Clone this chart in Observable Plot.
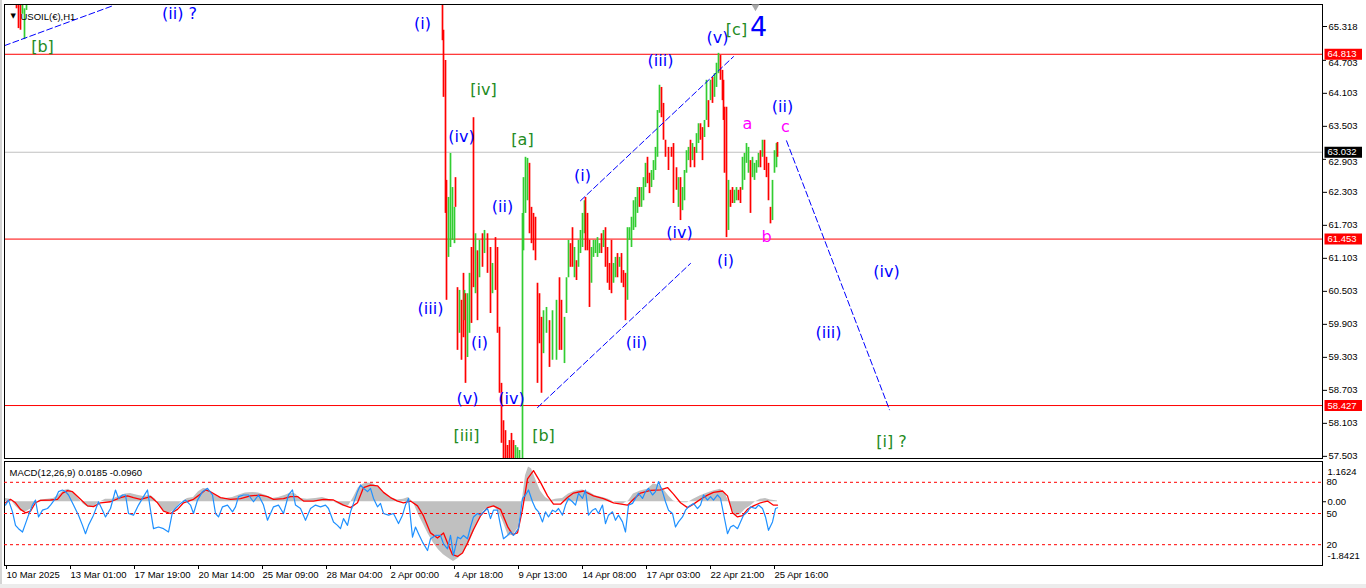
<!DOCTYPE html>
<html>
<head>
<meta charset="utf-8">
<script src="https://cdn.jsdelivr.net/npm/d3@7"></script>
<script src="https://cdn.jsdelivr.net/npm/@observablehq/plot@0.6"></script>
<style>
  body { margin: 0; background: #fff; }
  #wrap { position: relative; width: 1366px; height: 588px; overflow: hidden; background: #fff; }
  #wrap svg { position: absolute; left: 0; max-width: none; }
  .edge { position: absolute; background: #d4d4d4; }
</style>
</head>
<body>
<div id="wrap"></div>
<script>
// ---------- DATA ----------
const symbolTitle = "USOIL(€),H1";
const macdTitle = "MACD(12,26,9) 0.0185 -0.0960";

// time axis: bar number -> label
const tickBars = [1, 65, 129, 193, 257, 321, 385, 449, 513, 577, 641, 705, 769];
const tickLabels = ["10 Mar 2025", "13 Mar 01:00", "17 Mar 19:00", "20 Mar 14:00", "25 Mar 09:00",
  "28 Mar 04:00", "2 Apr 00:00", "4 Apr 18:00", "9 Apr 13:00", "14 Apr 08:00", "17 Apr 03:00",
  "22 Apr 21:00", "25 Apr 16:00"];

// price axis labels
const priceTicks = [65.318, 64.703, 64.103, 63.503, 62.903, 62.303, 61.703, 61.103, 60.503,
  59.903, 59.303, 58.703, 58.103, 57.503];
const keyLevels = [64.813, 61.453, 58.427];
const lastPrice = 63.032;

// hourly bars (sampled): [bar, high, low, direction]
const priceBars = [
 [12,66.0,65.64,"d"],[14,66.0,65.28,"d"],[16,66.0,65.25,"d"],[18,66.0,65.54,"u"],[20,65.64,65.08,"u"],[22,66.0,65.61,"u"],
 [438,66.0,65.06,"d"],[439,65.25,64.03,"d"],[441,64.70,61.92,"d"],[442,62.52,60.34,"d"],[444,62.21,61.12,"u"],[446,63.01,61.30,"u"],
 [448,62.39,61.43,"u"],[450,62.03,61.37,"u"],[451,62.57,62.03,"d"],[453,60.57,59.43,"d"],[455,60.52,59.74,"u"],[457,60.34,59.25,"d"],
 [459,60.83,59.66,"d"],[460,60.52,59.97,"u"],[461,60.46,58.83,"d"],[463,60.46,59.30,"u"],[465,60.83,59.74,"u"],[467,61.30,59.92,"d"],
 [469,63.66,60.57,"d"],[471,61.55,60.46,"u"],[473,61.24,59.97,"d"],[475,61.43,60.75,"u"],[478,61.55,60.94,"d"],[480,61.61,61.19,"u"],
 [483,61.55,60.83,"d"],[486,61.30,60.10,"d"],[488,61.01,60.46,"u"],[491,61.48,60.52,"d"],[493,61.30,59.74,"d"],[495,59.85,58.65,"d"],
 [497,58.83,57.74,"d"],[499,58.15,57.34,"d"],[501,57.97,57.25,"d"],[503,57.70,57.25,"d"],[505,57.79,57.25,"d"],[507,57.92,57.25,"d"],
 [509,57.79,57.25,"d"],[511,57.70,57.25,"u"],[513,57.66,57.25,"u"],[515,57.61,57.25,"u"],[518,61.92,57.25,"u"],[519,62.57,61.24,"u"],
 [521,62.94,61.92,"u"],[523,62.92,62.15,"u"],[525,62.83,61.55,"d"],[527,62.03,61.37,"d"],[529,61.92,61.24,"d"],[531,61.85,61.06,"d"],
 [533,60.65,58.83,"d"],[535,60.46,59.55,"d"],[537,60.03,58.65,"d"],[539,60.15,59.37,"u"],[542,60.21,59.74,"u"],[545,59.97,59.12,"d"],
 [548,60.15,59.25,"u"],[552,60.34,59.25,"u"],[555,60.75,59.43,"d"],[557,60.34,59.43,"d"],[560,60.03,59.19,"u"],[562,60.75,60.10,"u"],
 [564,61.43,60.75,"u"],[566,61.37,60.94,"d"],[568,61.66,60.94,"d"],[570,61.30,60.75,"u"],[572,61.06,60.70,"d"],[574,61.43,60.94,"u"],
 [576,61.61,61.19,"u"],[578,61.92,61.30,"u"],[580,62.15,61.55,"u"],[581,62.21,61.24,"d"],[583,61.92,61.24,"d"],[585,61.43,60.21,"d"],
 [587,61.30,60.65,"u"],[589,61.43,61.12,"u"],[591,61.43,61.19,"u"],[593,61.48,61.12,"u"],[595,61.37,61.19,"u"],[597,61.55,61.19,"d"],
 [599,61.61,61.30,"u"],[601,61.66,60.94,"d"],[603,61.30,60.65,"d"],[605,61.01,60.52,"d"],[607,61.43,60.46,"d"],[609,61.01,60.65,"u"],
 [611,61.12,60.75,"u"],[613,61.19,60.75,"d"],[615,61.12,60.94,"u"],[617,61.19,60.65,"d"],[619,60.88,60.57,"d"],[621,60.83,59.97,"d"],
 [623,61.66,60.34,"u"],[625,61.66,61.43,"u"],[627,61.85,61.30,"u"],[629,62.15,61.61,"u"],[631,62.21,61.66,"u"],[633,62.39,61.92,"u"],
 [635,62.39,62.03,"d"],[637,62.39,62.03,"u"],[639,62.57,62.15,"u"],[641,62.83,62.39,"u"],[643,62.94,62.46,"d"],[645,62.65,62.28,"d"],
 [647,62.70,62.39,"u"],[649,62.88,62.52,"u"],[651,63.12,62.70,"u"],[653,63.79,62.94,"u"],[655,64.25,63.74,"u"],[657,64.21,63.66,"d"],
 [659,63.92,63.25,"d"],[661,63.25,62.94,"d"],[664,63.12,62.70,"d"],[667,63.12,62.94,"d"],[669,63.19,62.10,"d"],[672,62.75,62.34,"d"],
 [674,62.57,62.03,"u"],[676,62.57,61.79,"d"],[678,62.39,61.97,"u"],[680,62.70,62.15,"u"],[682,63.06,62.65,"u"],[684,63.12,62.88,"u"],
 [686,63.25,62.75,"d"],[688,63.19,62.88,"u"],[690,63.12,62.75,"d"],[692,63.37,63.01,"u"],[694,63.55,63.19,"u"],[696,63.55,63.25,"d"],
 [698,63.48,62.88,"d"],[700,63.61,63.30,"u"],[702,64.34,63.61,"u"],[704,63.97,63.48,"d"],[706,64.34,63.97,"u"],[708,64.39,63.92,"d"],
 [710,64.46,64.03,"u"],[712,64.65,64.21,"u"],[714,64.83,64.46,"u"],[716,64.79,64.34,"d"],[718,64.52,63.97,"d"],[719,64.34,63.61,"d"],
 [720,63.85,62.65,"d"],[722,63.85,61.48,"d"],[724,62.52,61.61,"u"],[726,62.34,62.03,"d"],[728,62.39,62.10,"d"],[730,62.34,62.10,"u"],
 [732,62.39,62.15,"u"],[734,62.34,62.15,"d"],[736,62.39,62.10,"d"],[738,62.94,62.34,"u"],[740,63.01,62.52,"u"],[742,63.19,62.83,"u"],
 [744,63.12,62.65,"u"],[746,62.88,61.92,"d"],[748,62.94,62.57,"u"],[750,62.83,62.52,"u"],[752,62.88,62.65,"u"],[754,63.01,62.75,"u"],
 [756,63.06,62.75,"d"],[758,63.25,62.94,"u"],[760,63.25,62.70,"d"],[762,62.94,62.57,"d"],[764,62.83,62.15,"d"],[766,62.03,61.73,"d"],
 [768,62.52,61.79,"u"],[770,63.06,62.65,"u"],[772,63.19,62.75,"u"],[773,63.21,62.94,"d"]
];

// Elliott wave labels: [text, bar, price, kind]
const waveLabels = [
 ["(ii) ?",175,65.55,"wave"],["[b]",38,64.94,"major"],["(i)",418,65.37,"wave"],["[iv]",479,64.17,"major"],
 ["(iv)",457,63.32,"wave"],["[a]",518,63.25,"major"],["(ii)",498,62.03,"wave"],["(iii)",426,60.19,"wave"],
 ["(i)",475,59.57,"wave"],["(v)",463,58.55,"wave"],["(iv)",507,58.55,"wave"],["[iii]",462,57.88,"major"],
 ["[b]",539,57.88,"major"],["(i)",578,62.61,"wave"],["(ii)",632,59.57,"wave"],["(iii)",656,64.70,"wave"],
 ["(iv)",675,61.57,"wave"],["(v)",713,65.12,"wave"],["[c]",732,65.25,"major"],["(i)",721,61.06,"wave"],
 ["(ii)",778,63.86,"wave"],["(iv)",882,60.86,"wave"],["(iii)",824,59.74,"wave"],["[i] ?",887,57.77,"major"],
 ["a",743,63.54,"minor"],["b",762,61.50,"minor"],["c",781,63.50,"minor"],["4",754,65.30,"degree"]
];

// dashed trend lines: [id, bar, price]
const trendLines = [
 [1,0,64.97],[1,109,65.70],
 [2,576,62.15],[2,729,64.77],
 [3,533,58.39],[3,686,61.01],
 [4,782,63.24],[4,885,58.35]
];

// MACD histogram [bar, value]
const macdHist = [
 [1,0.09],[6,0.07],[11,-0.12],[16,-0.27],[21,-0.30],[26,-0.22],[31,-0.03],[36,0.05],[43,0.07],[49,0.09],[54,0.19],[59,0.32],
 [64,0.36],[69,0.27],[74,0.09],[79,-0.07],[84,-0.17],[89,-0.17],[94,-0.03],[101,0.07],[108,0.07],[114,0.15],[121,0.22],[126,0.24],
 [133,0.19],[139,0.15],[146,0.19],[151,0.07],[156,-0.17],[161,-0.30],[166,-0.32],[171,-0.22],[176,-0.03],[183,0.09],[189,0.12],
 [194,0.29],[199,0.38],[204,0.36],[209,0.22],[214,0.12],[221,0.09],[228,0.12],[234,0.19],[241,0.25],[248,0.27],[254,0.25],[261,0.19],
 [268,0.09],[274,0.12],[281,0.19],[286,0.25],[291,0.22],[296,0.09],[303,0.07],[311,0.09],[318,0.12],[324,0.07],[331,-0.03],[338,-0.12],
 [344,-0.12],[349,0.12],[354,0.41],[359,0.51],[364,0.54],[369,0.51],[374,0.41],[379,0.27],[386,0.12],[393,0.05],[399,0.07],[404,0.12],
 [409,-0.03],[414,-0.37],[419,-0.66],[424,-0.95],[429,-1.19],[434,-1.39],[439,-1.53],[444,-1.63],[449,-1.73],[454,-1.63],[459,-1.48],
 [464,-1.24],[469,-0.90],[474,-0.56],[479,-0.27],[484,-0.17],[489,-0.14],[494,-0.27],[499,-0.61],[504,-1.00],[509,-0.95],[514,-0.75],
 [518,0.07],[521,0.75],[524,1.00],[527,0.95],[531,0.66],[536,0.31],[541,0.12],[546,0.03],[551,0.07],[558,0.09],[564,0.22],[571,0.31],
 [578,0.34],[584,0.29],[591,0.17],[598,0.12],[604,0.07],[611,-0.03],[618,-0.07],[624,0.02],[629,0.22],[636,0.31],[643,0.36],[649,0.51],
 [654,0.48],[659,0.36],[664,0.17],[669,0.02],[676,-0.03],[683,-0.03],[689,0.07],[696,0.17],[703,0.25],[709,0.31],[716,0.36],[721,0.22],
 [726,-0.12],[731,-0.41],[736,-0.37],[741,-0.22],[746,-0.12],[751,0.0],[756,0.07],[761,0.09],[766,0.05],[773,0.02]
];

// MACD signal [bar, value]
const macdSignal = [
 [1,-0.03],[6,0.07],[11,-0.03],[16,-0.22],[21,-0.32],[26,-0.27],[31,-0.03],[36,0.04],[46,0.05],[53,0.07],[58,0.25],[63,0.32],
 [68,0.29],[76,0.07],[83,-0.12],[89,-0.14],[96,-0.03],[106,0.0],[116,0.12],[123,0.17],[129,0.12],[136,0.07],[146,0.15],[153,-0.03],
 [159,-0.27],[166,-0.34],[173,-0.22],[179,-0.03],[189,0.07],[196,0.22],[201,0.34],[206,0.29],[216,0.12],[226,0.07],[236,0.09],
 [246,0.17],[256,0.19],[263,0.15],[269,0.07],[279,0.09],[286,0.15],[293,0.15],[299,0.02],[309,0.02],[319,0.07],[329,0.05],[339,-0.10],
 [346,-0.17],[353,-0.03],[359,0.41],[366,0.48],[373,0.46],[379,0.27],[386,0.12],[393,0.02],[399,-0.03],[406,0.02],[413,-0.12],
 [419,-0.41],[426,-0.90],[433,-1.05],[439,-0.90],[443,-1.19],[448,-1.53],[453,-1.58],[458,-1.48],[463,-1.19],[469,-0.80],[476,-0.41],
 [483,-0.17],[489,-0.12],[496,-0.22],[503,-0.71],[508,-0.95],[513,-0.90],[518,-0.22],[523,0.66],[529,0.90],[536,0.56],[543,0.17],
 [549,-0.07],[556,-0.07],[563,0.12],[569,0.25],[579,0.31],[589,0.17],[599,0.09],[609,-0.03],[623,-0.10],[629,0.07],[636,0.25],
 [646,0.33],[656,0.34],[663,0.41],[669,0.22],[676,-0.03],[683,-0.17],[689,-0.07],[696,0.07],[703,0.19],[709,0.27],[718,0.31],
 [723,0.17],[728,-0.32],[733,-0.44],[738,-0.40],[743,-0.22],[749,-0.12],[756,-0.03],[763,0.02],[769,-0.10],[773,-0.10]
];

// oscillator (0-100) [bar, value]
const oscLine = [
 [1,58.1],[4,62.9],[8,51.6],[11,38.6],[14,35.4],[18,32.2],[21,40.3],[24,48.4],[28,58.1],[31,62.9],[34,46.7],[38,53.2],[43,54.8],
 [46,58.1],[51,64.5],[54,71.0],[58,72.6],[61,71.0],[64,67.8],[69,58.1],[74,48.4],[78,38.6],[81,30.6],[84,38.6],[89,48.4],[94,61.3],
 [98,53.2],[101,46.7],[106,54.8],[111,72.6],[114,64.5],[118,67.8],[121,67.8],[124,50.0],[129,48.4],[134,58.1],[139,66.2],[143,72.6],
 [146,53.2],[149,35.4],[154,37.0],[159,35.4],[164,32.2],[168,51.6],[171,54.8],[176,59.7],[181,62.9],[186,58.1],[189,50.0],[193,62.9],
 [198,71.0],[203,74.2],[208,67.8],[211,50.0],[214,46.7],[218,56.4],[223,58.1],[228,51.6],[231,56.4],[234,66.2],[239,67.8],[244,67.8],
 [249,61.3],[254,67.8],[259,58.1],[263,43.5],[266,50.0],[269,56.4],[274,58.1],[279,50.0],[284,67.8],[288,72.6],[291,58.1],[296,54.8],
 [301,43.5],[306,54.8],[311,58.1],[316,56.4],[321,58.1],[324,54.8],[329,41.9],[333,38.6],[336,35.4],[339,45.1],[343,38.6],[346,51.6],
 [349,59.7],[353,71.0],[356,77.5],[359,74.2],[363,71.0],[366,74.2],[369,64.5],[373,56.4],[376,59.7],[379,50.0],[384,48.4],[389,50.0],
 [394,40.3],[398,48.4],[401,58.1],[404,64.5],[408,27.3],[411,37.0],[414,30.6],[418,22.5],[423,14.4],[426,25.7],[431,28.9],[436,28.9],
 [439,20.8],[443,16.0],[446,28.9],[449,9.5],[453,27.3],[456,25.7],[459,28.9],[463,25.7],[466,37.0],[469,46.7],[473,50.0],[476,48.4],
 [479,51.6],[483,54.8],[486,45.1],[489,53.2],[493,53.2],[496,38.6],[499,25.7],[503,28.9],[506,32.2],[509,28.9],[514,35.4],[518,64.5],
 [521,67.8],[524,72.6],[528,61.3],[531,54.8],[534,51.6],[538,41.9],[541,51.6],[544,46.7],[548,53.2],[551,51.6],[554,54.8],[558,48.4],
 [561,58.1],[564,64.5],[568,61.3],[571,58.1],[574,69.4],[578,64.5],[581,72.6],[584,48.4],[588,53.2],[591,54.8],[594,50.0],[598,58.1],
 [601,40.3],[604,48.4],[608,51.6],[611,43.5],[614,48.4],[618,41.9],[621,32.2],[624,58.1],[628,59.7],[631,64.5],[634,69.4],[638,64.5],
 [641,71.0],[644,74.2],[648,67.8],[651,71.0],[654,80.7],[658,71.0],[661,61.3],[664,53.2],[668,50.0],[671,37.0],[674,41.9],[678,46.7],
 [681,53.2],[684,56.4],[689,59.7],[693,54.8],[696,58.1],[699,67.8],[703,62.9],[706,66.2],[709,62.9],[713,67.8],[716,64.5],[719,50.0],
 [723,30.6],[726,37.0],[729,38.6],[733,35.4],[736,41.9],[739,48.4],[743,51.6],[746,56.4],[751,54.8],[754,58.1],[758,54.8],[761,46.7],
 [764,33.8],[768,41.9],[771,54.8],[773,55.5]
];
const oscLevels = [80, 50, 20];
const macdRange = [-1.8421, 1.1624];

// ---------- BUILD ----------
const W = 1366, XMAX = 1318;
const BLUE = "#0000ff", GREEN = "#238b23", MAGENTA = "#ff00ff";
const baseStyle = {fontFamily: "'Liberation Sans', Arial, sans-serif", fontSize: "9.5px", background: "transparent", color: "#000", overflow: "hidden"};
const wave = "'DejaVu Sans', sans-serif";

const bars = priceBars.map(([t, high, low, dir]) => ({t, high, low, color: dir === "u" ? "#32cd32" : "#ff0000"}));
const labels = waveLabels.map(([text, t, p, kind]) => ({text, t, p, kind}));
const trends = trendLines.map(([id, t, p]) => ({id, t, p}));
const boxes = [
  ...keyLevels.map(v => ({v, color: "#ff0000"})),
  {v: lastPrice, color: "#000000"}
];
const kindColor = {wave: BLUE, major: GREEN, minor: MAGENTA, degree: BLUE};
const coveredTicks = priceTicks.filter(t => boxes.some(b => Math.abs(b.v - t) < 0.15));
const freeTicks = priceTicks.filter(t => !coveredTicks.includes(t));

const main = Plot.plot({
  width: W, height: 460,
  marginLeft: 4, marginRight: 44, marginTop: 4, marginBottom: 2,
  x: {domain: [0, XMAX], axis: null, label: null},
  y: {domain: [57.464, 65.718], axis: null, label: null},
  color: {type: "identity"},
  style: baseStyle,
  marks: [
    Plot.ruleY(keyLevels, {stroke: "#ff0000", strokeWidth: 1}),
    Plot.ruleY([lastPrice], {stroke: "#c0c0c0", strokeWidth: 1}),
    Plot.ruleX(bars, {x: "t", y1: "low", y2: "high", stroke: "color", strokeWidth: 1.7, clip: true}),
    Plot.line(trends, {x: "t", y: "p", z: "id", stroke: BLUE, strokeWidth: 1, strokeDasharray: "6,3", clip: true}),
    Plot.text(labels.filter(d => d.kind !== "degree"), {x: "t", y: "p", text: "text", fill: d => kindColor[d.kind], fontFamily: wave, fontSize: 16}),
    Plot.text(labels.filter(d => d.kind === "degree"), {x: "t", y: "p", text: "text", fill: BLUE, fontFamily: wave, fontSize: 27}),
    Plot.frame({stroke: "#000"}),
    Plot.axisY({anchor: "right", label: null, ticks: freeTicks, tickFormat: d => d.toFixed(3), tickSize: 4, tickPadding: 2}),
    // ticks partly hidden behind the level boxes (their lower part shows, as in MT4)
    Plot.ruleY(coveredTicks, {x1: () => XMAX, x2: () => XMAX + 4, stroke: "#000"}),
    Plot.text(coveredTicks, {x: () => XMAX + 6, y: d => d, dy: 3, text: d => d.toFixed(3), textAnchor: "start", fill: "#000"}),
    Plot.ruleY(boxes, {y: "v", x1: () => XMAX + 2.5, x2: () => XMAX + 40, stroke: "color", strokeWidth: 11}),
    Plot.text(boxes, {x: () => XMAX + 5, y: "v", text: d => d.v.toFixed(3), fill: "#fff", textAnchor: "start"}),
    Plot.text([symbolTitle], {frameAnchor: "top-left", dx: 16, dy: 9, text: d => d, textAnchor: "start", fill: "#000"}),
    Plot.text(["▼"], {frameAnchor: "top-left", dx: 6, dy: 9, text: d => d, textAnchor: "start", fill: "#000", fontSize: 7, fontFamily: wave}),
    Plot.dot([751], {x: d => d, frameAnchor: "top", dy: 2, symbol: "triangle", rotate: 180, r: 3, fill: "#a8a8a8", stroke: "none"})
  ]
});
main.style.top = "0px";

const hist = macdHist.map(([t, v]) => ({t, v}));
const sig = macdSignal.map(([t, v]) => ({t, v}));
const osc = oscLine.map(([t, v]) => ({t, v}));
const tickMap = new Map(tickBars.map((b, i) => [b, tickLabels[i]]));

const macd = Plot.plot({
  width: W, height: 128,
  marginLeft: 4, marginRight: 44, marginTop: 1, marginBottom: 23,
  x: {domain: [0, XMAX], axis: null, label: null},
  y: {domain: macdRange, axis: null, label: null},
  style: baseStyle,
  marks: [
    Plot.areaY(hist, {x: "t", y1: () => 0, y2: "v", fill: "#c0c0c0"}),
    Plot.line(sig, {x: "t", y: "v", stroke: "#ff0000", strokeWidth: 1.3}),
    Plot.frame({stroke: "#000"}),
    Plot.axisX({ticks: tickBars, label: null, tickFormat: d => tickMap.get(d), anchor: "bottom", tickSize: 4, tickPadding: 2, textAnchor: "start", dx: 1}),
    Plot.axisY({anchor: "right", label: null, ticks: [0], tickFormat: () => "0.00", tickSize: 3, tickPadding: 2}),
    Plot.text([macdRange[1]], {frameAnchor: "top-right", dx: 5, dy: 7, text: d => d.toFixed(4), textAnchor: "start"}),
    Plot.text([macdRange[0]], {frameAnchor: "bottom-right", dx: 5, dy: -7, text: d => d.toFixed(4), textAnchor: "start"}),
    Plot.text([macdTitle], {frameAnchor: "top-left", dx: 5, dy: 8, text: d => d, textAnchor: "start"})
  ]
});
macd.style.top = "460px";

const oscPlot = Plot.plot({
  width: W, height: 128,
  marginLeft: 4, marginRight: 44, marginTop: 1, marginBottom: 23,
  x: {domain: [0, XMAX], axis: null, label: null},
  y: {domain: [0, 100], axis: null, label: null},
  style: baseStyle,
  marks: [
    Plot.ruleY(oscLevels, {stroke: "#ff0000", strokeDasharray: "3,3", strokeWidth: 1}),
    Plot.line(osc, {x: "t", y: "v", stroke: "#1e90ff", strokeWidth: 1.2}),
    Plot.text(oscLevels, {x: () => XMAX + 4, y: d => d, text: d => String(d), textAnchor: "start"})
  ]
});
oscPlot.style.top = "460px";

const wrap = document.getElementById("wrap");
wrap.append(main, macd, oscPlot);
const e1 = document.createElement("div"); e1.className = "edge";
Object.assign(e1.style, {left: "0px", top: "0px", width: "2px", height: "588px"});
const e2 = document.createElement("div"); e2.className = "edge";
Object.assign(e2.style, {left: "0px", top: "584px", width: "1366px", height: "4px", background: "#ececec"});
wrap.append(e1, e2);
</script>
</body>
</html>
